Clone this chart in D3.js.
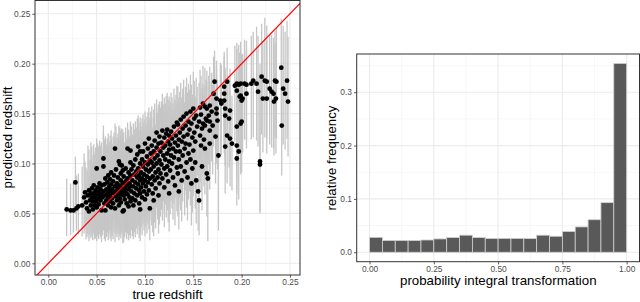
<!DOCTYPE html>
<html>
<head>
<meta charset="utf-8">
<script src="https://cdn.jsdelivr.net/npm/d3@7"></script>
<style>
html,body{margin:0;padding:0;background:#fff;}
svg{display:block;font-family:"Liberation Sans",Arial,Helvetica,sans-serif;}
</style>
</head>
<body>
<svg id="chart" width="640" height="302"></svg>
<script>
// ---------- data ----------
// left panel: each galaxy = [true redshift, predicted redshift, lower bound, upper bound]
const galaxies = [
[0.019,0.054,0.027,0.085],[0.023,0.053,0.028,0.080],[0.026,0.053,0.031,0.083],[0.028,0.081,0.050,0.107],[0.029,0.055,0.033,0.088],[0.031,0.057,0.029,0.090],
[0.035,0.058,0.027,0.097],[0.037,0.066,0.030,0.110],[0.038,0.071,0.034,0.102],[0.039,0.061,0.024,0.096],[0.040,0.055,0.026,0.093],[0.041,0.068,0.029,0.118],[0.042,0.052,0.022,0.087],[0.042,0.073,0.035,0.114],[0.043,0.063,0.028,0.104],[0.044,0.058,0.025,0.099],[0.044,0.070,0.031,0.121],[0.045,0.066,0.027,0.108],[0.045,0.075,0.036,0.117],[0.046,0.054,0.023,0.094],[0.046,0.062,0.030,0.101],
[0.047,0.070,0.030,0.112],[0.047,0.078,0.039,0.119],[0.048,0.058,0.024,0.098],[0.048,0.066,0.028,0.109],[0.049,0.073,0.033,0.116],[0.049,0.062,0.025,0.101],[0.050,0.095,0.058,0.125],[0.050,0.069,0.030,0.113],[0.050,0.056,0.022,0.095],[0.051,0.076,0.036,0.120],[0.051,0.064,0.027,0.106],[0.052,0.071,0.032,0.117],[0.052,0.059,0.024,0.100],[0.053,0.067,0.029,0.111],[0.053,0.080,0.040,0.123],[0.054,0.074,0.034,0.118],[0.054,0.063,0.026,0.104],[0.055,0.069,0.031,0.112],[0.055,0.053,0.021,0.092],[0.055,0.078,0.037,0.121],
[0.056,0.066,0.028,0.109],[0.057,0.105,0.064,0.138],[0.057,0.097,0.057,0.131],[0.057,0.072,0.033,0.116],[0.058,0.060,0.024,0.102],[0.058,0.079,0.038,0.124],[0.059,0.053,0.022,0.093],[0.059,0.068,0.030,0.113],[0.059,0.085,0.044,0.127],[0.060,0.074,0.034,0.119],[0.060,0.063,0.026,0.107],[0.061,0.070,0.031,0.115],[0.061,0.081,0.040,0.125],[0.062,0.066,0.027,0.110],[0.062,0.058,0.023,0.099],[0.062,0.088,0.046,0.130],[0.063,0.073,0.033,0.118],[0.063,0.077,0.036,0.122],[0.064,0.062,0.025,0.105],[0.064,0.069,0.029,0.114],[0.064,0.084,0.042,0.128],[0.065,0.071,0.032,0.116],[0.065,0.056,0.022,0.097],[0.065,0.079,0.038,0.124],[0.065,0.091,0.049,0.133],
[0.066,0.065,0.027,0.109],[0.066,0.074,0.034,0.120],[0.067,0.082,0.041,0.127],[0.067,0.060,0.024,0.103],[0.068,0.070,0.031,0.115],[0.068,0.088,0.046,0.131],[0.069,0.115,0.071,0.140],[0.069,0.055,0.021,0.096],[0.069,0.077,0.036,0.123],[0.070,0.067,0.028,0.112],[0.070,0.072,0.032,0.118],[0.070,0.094,0.052,0.137],[0.071,0.063,0.026,0.107],[0.071,0.080,0.039,0.126],[0.072,0.075,0.035,0.121],[0.072,0.069,0.030,0.114],[0.072,0.086,0.044,0.130],[0.073,0.058,0.023,0.100],[0.073,0.078,0.037,0.124],[0.073,0.102,0.060,0.138],[0.074,0.099,0.057,0.136],[0.074,0.071,0.031,0.117],[0.074,0.065,0.027,0.110],[0.075,0.083,0.042,0.128],[0.075,0.076,0.036,0.122],[0.075,0.090,0.048,0.133],[0.075,0.061,0.025,0.104],[0.075,0.069,0.029,0.113],
[0.076,0.098,0.056,0.135],[0.076,0.072,0.032,0.118],[0.077,0.093,0.051,0.134],[0.077,0.052,0.020,0.094],[0.077,0.080,0.039,0.126],[0.078,0.053,0.021,0.095],[0.078,0.068,0.029,0.113],[0.078,0.087,0.045,0.131],[0.079,0.075,0.035,0.121],[0.079,0.064,0.026,0.108],[0.080,0.082,0.041,0.128],[0.080,0.071,0.031,0.117],[0.080,0.095,0.053,0.136],[0.081,0.078,0.037,0.124],[0.081,0.060,0.024,0.103],[0.082,0.115,0.072,0.141],[0.082,0.085,0.043,0.130],[0.082,0.069,0.030,0.114],[0.083,0.074,0.034,0.120],[0.083,0.091,0.049,0.134],[0.083,0.057,0.023,0.099],[0.084,0.080,0.039,0.127],[0.084,0.066,0.028,0.111],[0.085,0.113,0.070,0.142],[0.085,0.062,0.025,0.106],[0.085,0.088,0.046,0.132],[0.085,0.077,0.037,0.123],[0.085,0.101,0.059,0.139],
[0.086,0.072,0.033,0.120],[0.086,0.094,0.052,0.137],[0.087,0.083,0.042,0.129],[0.087,0.065,0.027,0.111],[0.088,0.098,0.056,0.140],[0.088,0.077,0.037,0.124],[0.088,0.058,0.024,0.101],[0.089,0.089,0.047,0.134],[0.089,0.070,0.031,0.116],[0.090,0.104,0.061,0.142],[0.090,0.081,0.040,0.128],[0.090,0.063,0.026,0.109],[0.091,0.092,0.050,0.136],[0.091,0.075,0.035,0.122],[0.092,0.086,0.044,0.131],[0.092,0.068,0.029,0.114],[0.092,0.109,0.066,0.145],[0.093,0.117,0.073,0.148],[0.093,0.079,0.038,0.126],[0.093,0.095,0.053,0.138],[0.094,0.073,0.033,0.119],[0.094,0.088,0.046,0.133],[0.094,0.060,0.025,0.104],[0.095,0.100,0.058,0.141],[0.095,0.083,0.042,0.129],[0.095,0.054,0.022,0.097],[0.095,0.070,0.031,0.116],[0.095,0.112,0.069,0.146],
[0.096,0.091,0.049,0.137],[0.096,0.076,0.036,0.124],[0.097,0.104,0.061,0.145],[0.097,0.085,0.043,0.132],[0.097,0.066,0.028,0.112],[0.098,0.097,0.055,0.141],[0.098,0.080,0.039,0.128],[0.098,0.112,0.068,0.149],[0.099,0.072,0.033,0.120],[0.099,0.089,0.047,0.135],[0.100,0.101,0.058,0.144],[0.100,0.083,0.041,0.131],[0.100,0.120,0.076,0.152],[0.100,0.064,0.027,0.110],[0.101,0.094,0.051,0.139],[0.101,0.077,0.037,0.125],[0.102,0.107,0.063,0.147],[0.102,0.087,0.045,0.134],[0.102,0.069,0.030,0.115],[0.103,0.099,0.056,0.142],[0.103,0.115,0.071,0.151],[0.103,0.081,0.040,0.129],[0.104,0.092,0.050,0.138],[0.104,0.073,0.034,0.121],[0.104,0.125,0.080,0.156],[0.105,0.055,0.023,0.099],[0.105,0.103,0.059,0.146],[0.105,0.085,0.043,0.133],
[0.106,0.110,0.065,0.152],[0.106,0.094,0.051,0.141],[0.107,0.079,0.038,0.129],[0.107,0.118,0.073,0.157],[0.107,0.101,0.057,0.146],[0.108,0.087,0.045,0.136],[0.108,0.070,0.031,0.118],[0.109,0.063,0.027,0.110],[0.109,0.112,0.067,0.154],[0.109,0.097,0.054,0.144],[0.110,0.123,0.077,0.160],[0.110,0.083,0.041,0.133],[0.110,0.105,0.061,0.149],[0.111,0.091,0.048,0.139],[0.111,0.075,0.035,0.125],[0.112,0.116,0.071,0.156],[0.112,0.100,0.056,0.147],[0.112,0.131,0.084,0.164],[0.113,0.086,0.044,0.136],[0.113,0.108,0.063,0.151],[0.114,0.094,0.050,0.142],[0.114,0.120,0.074,0.159],[0.114,0.068,0.030,0.117],[0.115,0.127,0.080,0.162],[0.115,0.103,0.058,0.148],[0.115,0.080,0.039,0.131],
[0.116,0.112,0.066,0.156],[0.116,0.090,0.047,0.141],[0.117,0.121,0.075,0.162],[0.117,0.099,0.054,0.147],[0.118,0.133,0.085,0.170],[0.118,0.085,0.043,0.137],[0.119,0.108,0.062,0.153],[0.119,0.116,0.070,0.159],[0.120,0.095,0.051,0.144],[0.120,0.126,0.079,0.166],[0.120,0.076,0.036,0.128],[0.121,0.104,0.059,0.150],[0.121,0.118,0.072,0.160],[0.122,0.089,0.046,0.140],[0.122,0.130,0.083,0.168],[0.123,0.110,0.064,0.155],[0.123,0.134,0.087,0.171],[0.123,0.097,0.053,0.146],[0.124,0.122,0.076,0.164],[0.124,0.082,0.041,0.134],[0.125,0.114,0.068,0.158],[0.125,0.102,0.057,0.149],[0.125,0.128,0.081,0.167],[0.125,0.070,0.032,0.121],
[0.126,0.119,0.073,0.162],[0.126,0.093,0.049,0.143],[0.127,0.108,0.062,0.155],[0.127,0.132,0.085,0.171],[0.128,0.100,0.055,0.149],[0.128,0.125,0.078,0.166],[0.129,0.086,0.044,0.138],[0.129,0.115,0.069,0.160],[0.130,0.137,0.089,0.175],[0.130,0.106,0.060,0.153],[0.131,0.121,0.074,0.164],[0.131,0.078,0.038,0.131],[0.132,0.112,0.066,0.158],[0.132,0.128,0.081,0.169],[0.133,0.096,0.052,0.146],[0.133,0.141,0.093,0.178],[0.134,0.139,0.091,0.177],[0.134,0.118,0.071,0.162],[0.134,0.090,0.047,0.141],[0.135,0.124,0.077,0.166],[0.135,0.104,0.058,0.152],[0.135,0.072,0.034,0.125],
[0.136,0.131,0.083,0.172],[0.136,0.112,0.066,0.159],[0.137,0.144,0.095,0.181],[0.137,0.097,0.053,0.148],[0.138,0.122,0.075,0.166],[0.138,0.083,0.042,0.136],[0.139,0.135,0.087,0.175],[0.139,0.108,0.062,0.156],[0.140,0.127,0.080,0.169],[0.140,0.147,0.098,0.184],[0.141,0.115,0.068,0.161],[0.141,0.092,0.048,0.143],[0.142,0.138,0.089,0.177],[0.142,0.120,0.073,0.164],[0.143,0.101,0.056,0.151],[0.143,0.150,0.100,0.186],[0.144,0.129,0.081,0.171],[0.144,0.086,0.043,0.139],[0.145,0.142,0.093,0.180],[0.145,0.110,0.064,0.158],
[0.146,0.134,0.086,0.174],[0.146,0.119,0.072,0.164],[0.147,0.152,0.102,0.189],[0.147,0.104,0.058,0.154],[0.148,0.080,0.038,0.135],[0.148,0.140,0.091,0.179],[0.149,0.126,0.079,0.169],[0.149,0.095,0.051,0.147],[0.150,0.155,0.105,0.192],[0.150,0.113,0.067,0.160],[0.151,0.145,0.096,0.183],[0.151,0.131,0.083,0.173],[0.152,0.101,0.055,0.152],[0.152,0.122,0.075,0.167],[0.153,0.083,0.040,0.137],[0.153,0.148,0.099,0.186],[0.154,0.137,0.088,0.177],[0.155,0.072,0.033,0.127],
[0.156,0.063,0.028,0.120],[0.156,0.142,0.093,0.181],[0.157,0.128,0.081,0.171],[0.157,0.156,0.106,0.194],[0.158,0.118,0.072,0.164],[0.158,0.149,0.100,0.188],[0.159,0.097,0.053,0.149],[0.159,0.135,0.087,0.176],[0.160,0.160,0.110,0.198],[0.160,0.140,0.091,0.180],[0.161,0.124,0.077,0.168],[0.162,0.157,0.107,0.196],[0.162,0.115,0.069,0.162],[0.163,0.145,0.096,0.184],[0.164,0.090,0.047,0.144],[0.165,0.085,0.022,0.141],
[0.164,0.155,0.105,0.193],[0.167,0.158,0.108,0.197],[0.169,0.152,0.102,0.191],[0.166,0.148,0.099,0.188],[0.174,0.150,0.100,0.190],[0.175,0.143,0.094,0.184],[0.164,0.143,0.094,0.183],[0.167,0.142,0.093,0.182],[0.162,0.138,0.090,0.178],[0.167,0.133,0.085,0.174],[0.167,0.120,0.074,0.166],[0.170,0.138,0.089,0.179],[0.173,0.127,0.080,0.171],[0.171,0.170,0.117,0.207],[0.172,0.182,0.128,0.213],[0.174,0.165,0.113,0.203],[0.174,0.155,0.104,0.195],[0.176,0.108,0.033,0.158],[0.178,0.163,0.111,0.201],[0.179,0.160,0.108,0.199],
[0.182,0.177,0.122,0.212],[0.182,0.170,0.116,0.208],[0.182,0.163,0.110,0.203],[0.183,0.155,0.104,0.196],[0.188,0.153,0.102,0.195],[0.183,0.148,0.098,0.190],[0.187,0.145,0.096,0.188],[0.185,0.128,0.080,0.174],[0.188,0.125,0.077,0.172],[0.183,0.117,0.070,0.165],[0.190,0.120,0.073,0.168],[0.185,0.182,0.126,0.216],
[0.193,0.178,0.122,0.218],[0.195,0.180,0.124,0.221],[0.197,0.179,0.123,0.219],[0.199,0.180,0.125,0.222],[0.203,0.180,0.124,0.224],[0.205,0.179,0.123,0.223],[0.195,0.173,0.118,0.215],[0.205,0.170,0.115,0.214],[0.199,0.168,0.114,0.212],[0.200,0.163,0.109,0.209],[0.201,0.165,0.111,0.210],[0.198,0.167,0.112,0.211],[0.195,0.137,0.086,0.186],[0.199,0.140,0.089,0.190],[0.200,0.142,0.091,0.191],[0.195,0.118,0.070,0.172],[0.195,0.105,0.058,0.162],[0.197,0.112,0.064,0.167],[0.210,0.180,0.124,0.228],
[0.212,0.183,0.126,0.232],[0.2155,0.180,0.123,0.237],[0.2207,0.187,0.129,0.240],[0.224,0.183,0.126,0.246],[0.217,0.172,0.117,0.228],[0.222,0.165,0.111,0.222],[0.226,0.165,0.110,0.224],[0.226,0.182,0.125,0.238],[0.229,0.175,0.119,0.230],[0.219,0.102,0.052,0.200],[0.219,0.099,0.050,0.185],[0.2345,0.183,0.126,0.233],[0.236,0.182,0.125,0.236],[0.231,0.172,0.116,0.229],[0.233,0.170,0.115,0.226],[0.2355,0.165,0.110,0.222],[0.2335,0.162,0.108,0.219],[0.241,0.196,0.137,0.245],[0.243,0.175,0.119,0.238],[0.245,0.170,0.114,0.232],[0.2415,0.138,0.088,0.197],[0.247,0.183,0.125,0.243],[0.248,0.162,0.107,0.227]
];
const redshiftTicks = [0.00, 0.05, 0.10, 0.15, 0.20, 0.25];
const redshiftMinor = [0.025, 0.075, 0.125, 0.175, 0.225];

// right panel: PIT histogram, 20 bins of width 0.05 on [0,1]
const pitBinStart = [0.00,0.05,0.10,0.15,0.20,0.25,0.30,0.35,0.40,0.45,0.50,0.55,0.60,0.65,0.70,0.75,0.80,0.85,0.90,0.95];
const pitFreq     = [0.028,0.022,0.022,0.022,0.023,0.025,0.0275,0.032,0.0275,0.0256,0.026,0.026,0.0256,0.032,0.030,0.039,0.0475,0.061,0.093,0.354];
const pitBinWidth = 0.05;
const pitXTicks = [0.00, 0.25, 0.50, 0.75, 1.00];
const pitXMinor = [0.125, 0.375, 0.625, 0.875];
const pitYTicks = [0.0, 0.1, 0.2, 0.3];
const pitYMinor = [0.05, 0.15, 0.25, 0.35];

// ---------- drawing ----------
const svg = d3.select("#chart");
const gridMajor = "#EBEBEB", gridMinor = "#F2F2F2", borderCol = "#333333";
const tickText = "#4D4D4D", fs = 8.4, titleFs = 13.3;

function drawGrid(g, x, y, xMaj, xMin, yMaj, yMin) {
  const [x0, x1] = x.range(); const [y0, y1] = y.range();
  g.selectAll(null).data(xMin).join("line").attr("x1", d => x(d)).attr("x2", d => x(d)).attr("y1", y0).attr("y2", y1).attr("stroke", gridMinor).attr("stroke-width", 0.6);
  g.selectAll(null).data(yMin).join("line").attr("y1", d => y(d)).attr("y2", d => y(d)).attr("x1", x0).attr("x2", x1).attr("stroke", gridMinor).attr("stroke-width", 0.6);
  g.selectAll(null).data(xMaj).join("line").attr("x1", d => x(d)).attr("x2", d => x(d)).attr("y1", y0).attr("y2", y1).attr("stroke", gridMajor).attr("stroke-width", 1.1);
  g.selectAll(null).data(yMaj).join("line").attr("y1", d => y(d)).attr("y2", d => y(d)).attr("x1", x0).attr("x2", x1).attr("stroke", gridMajor).attr("stroke-width", 1.1);
}
function styleAxis(g) {
  g.select(".domain").remove();
  g.selectAll(".tick line").attr("stroke", borderCol).attr("stroke-width", 0.8);
  g.selectAll(".tick text").attr("fill", tickText).attr("font-size", fs).attr("font-family", '"Liberation Sans",Arial,sans-serif');
}

// ---- left panel ----
const xL = d3.scaleLinear().domain([-0.0138, 0.2604]).range([35, 300]);
const yL = d3.scaleLinear().domain([-0.0117, 0.2633]).range([275, 0.5]);
const gL = svg.append("g");
svg.append("defs").append("clipPath").attr("id", "clipL").append("rect")
  .attr("x", 35).attr("y", 0.5).attr("width", 265).attr("height", 274.5);
drawGrid(gL, xL, yL, redshiftTicks, redshiftMinor, redshiftTicks, redshiftMinor);

const dataL = gL.append("g").attr("clip-path", "url(#clipL)");
dataL.selectAll(".eb").data(galaxies).join("line").attr("class", "eb")
  .attr("x1", d => xL(d[0])).attr("x2", d => xL(d[0]))
  .attr("y1", d => yL(d[2])).attr("y2", d => yL(d[3]))
  .attr("stroke", "#C6C6C6").attr("stroke-width", 1.3);
dataL.selectAll(".pt").data(galaxies).join("circle").attr("class", "pt")
  .attr("cx", d => xL(d[0])).attr("cy", d => yL(d[1])).attr("r", 2.4).attr("fill", "#000");
const dom = xL.domain();
dataL.append("path").datum([dom[0], dom[1]])
  .attr("d", d3.line().x(d => xL(d)).y(d => yL(d)))
  .attr("stroke", "#FF0000").attr("stroke-width", 1.2).attr("fill", "none");

gL.append("rect").attr("x", 35).attr("y", 0.5).attr("width", 265).attr("height", 274.5)
  .attr("fill", "none").attr("stroke", borderCol).attr("stroke-width", 1);
const axLy = gL.append("g").attr("transform", "translate(35,0)")
  .call(d3.axisLeft(yL).tickValues(redshiftTicks).tickFormat(d3.format(".2f")).tickSize(2.7).tickPadding(2));
styleAxis(axLy);
const axLx = gL.append("g").attr("transform", "translate(0,275)")
  .call(d3.axisBottom(xL).tickValues(redshiftTicks).tickFormat(d3.format(".2f")).tickSize(2.7).tickPadding(1.5));
styleAxis(axLx);
svg.append("text").attr("x", 167.5).attr("y", 298.5).attr("text-anchor", "middle")
  .attr("font-size", titleFs).attr("fill", "#000").text("true redshift");
svg.append("text").attr("transform", "translate(11.5,137.5) rotate(-90)").attr("text-anchor", "middle")
  .attr("font-size", titleFs).attr("fill", "#000").text("predicted redshift");

// ---- right panel ----
const xR = d3.scaleLinear().domain([-0.05, 1.05]).range([356.7, 639.5]);
const yR = d3.scaleLinear().domain([-0.0177, 0.3717]).range([261.7, 54]);
const gR = svg.append("g");
drawGrid(gR, xR, yR, pitXTicks, pitXMinor, pitYTicks, pitYMinor);
gR.selectAll(".bar").data(pitBinStart).join("rect").attr("class", "bar")
  .attr("x", d => xR(d)).attr("width", d => xR(d + pitBinWidth) - xR(d))
  .attr("y", (d, i) => yR(pitFreq[i])).attr("height", (d, i) => yR(0) - yR(pitFreq[i]))
  .attr("fill", "#595959").attr("stroke", "#D0D0D0").attr("stroke-width", 0.8);
gR.append("rect").attr("x", 356.7).attr("y", 54).attr("width", 639.5 - 356.7).attr("height", 261.7 - 54)
  .attr("fill", "none").attr("stroke", borderCol).attr("stroke-width", 1);
const axRy = gR.append("g").attr("transform", "translate(356.7,0)")
  .call(d3.axisLeft(yR).tickValues(pitYTicks).tickFormat(d3.format(".1f")).tickSize(2.7).tickPadding(2));
styleAxis(axRy);
const axRx = gR.append("g").attr("transform", "translate(0,261.7)")
  .call(d3.axisBottom(xR).tickValues(pitXTicks).tickFormat(d3.format(".2f")).tickSize(2.7).tickPadding(1.5));
styleAxis(axRx);
svg.append("text").attr("x", 498.3).attr("y", 284.5).attr("text-anchor", "middle")
  .attr("font-size", titleFs).attr("fill", "#000").text("probability integral transformation");
svg.append("text").attr("transform", "translate(336,158) rotate(-90)").attr("text-anchor", "middle")
  .attr("font-size", titleFs).attr("fill", "#000").text("relative frequency");
</script>
</body>
</html>
